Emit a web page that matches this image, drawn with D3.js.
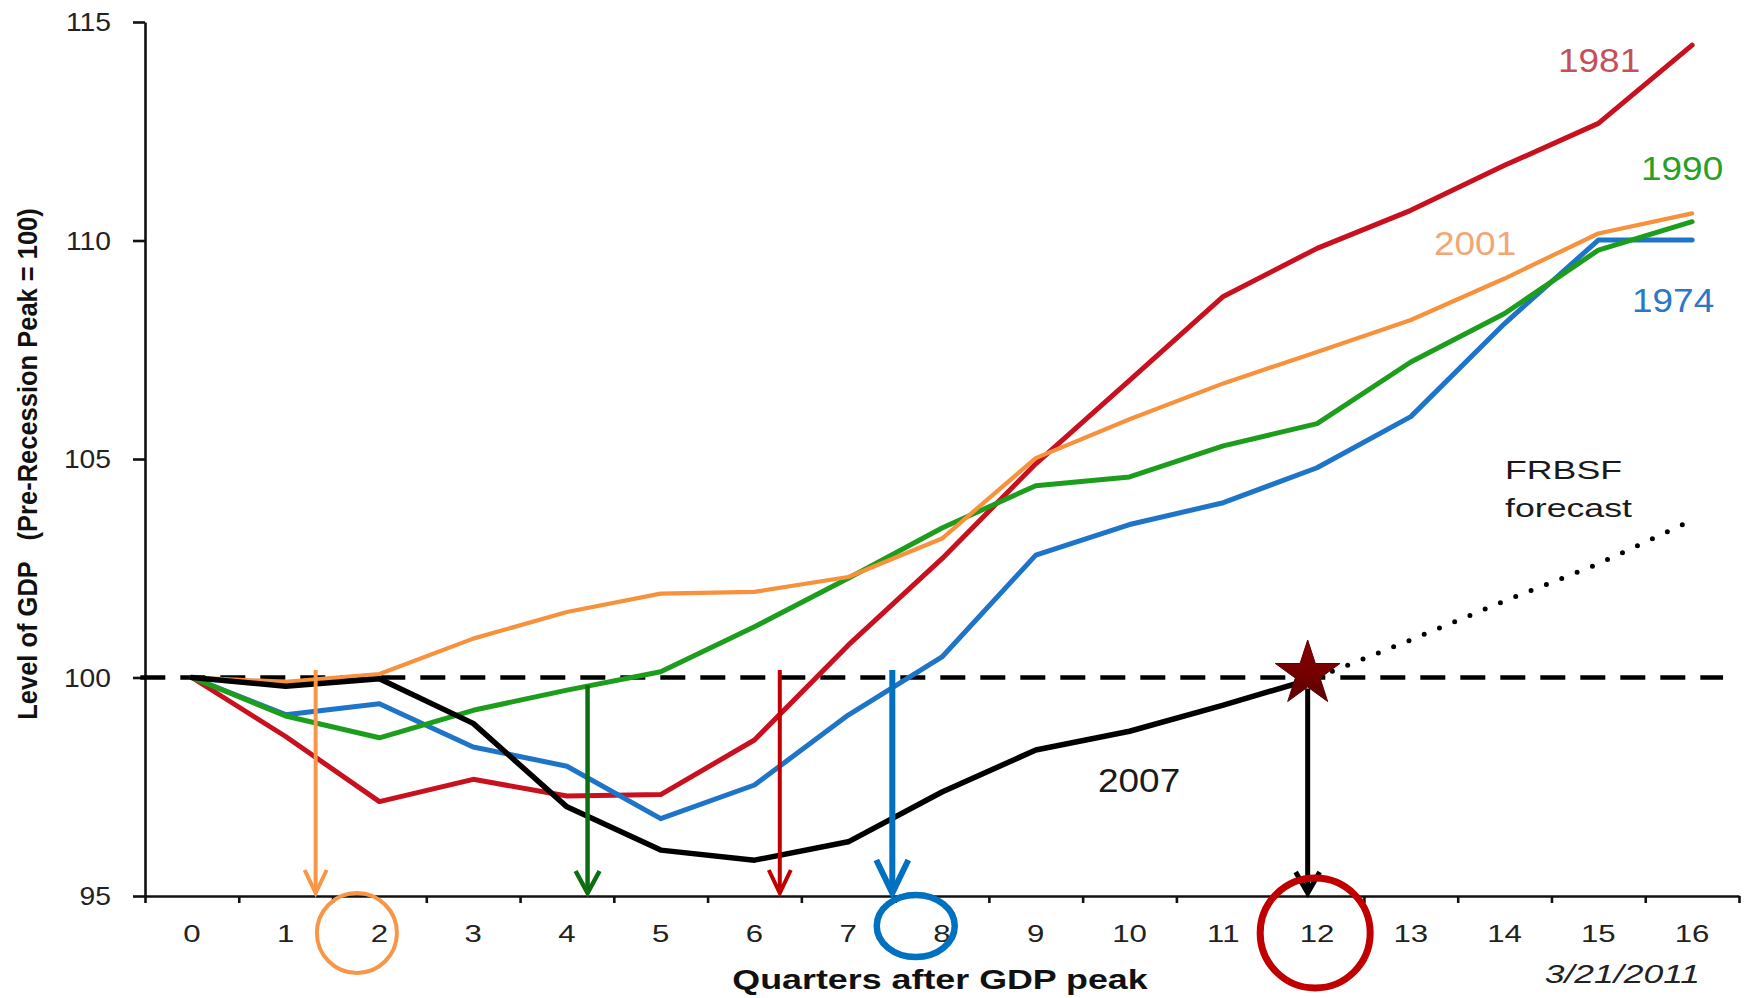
<!DOCTYPE html>
<html>
<head>
<meta charset="utf-8">
<script src="https://cdn.jsdelivr.net/npm/d3@7"></script>
<style>
  html, body { margin: 0; padding: 0; background: #fff; }
  svg { display: block; }
  text { font-family: "Liberation Sans", Arial, Helvetica, sans-serif; }
</style>
</head>
<body>
<svg id="chart" width="1745" height="998"></svg>
<script>
// Quarters after the pre-recession GDP peak
const quarters = d3.range(0, 17);
const tickLabels = quarters.map(String);
const yTicks = [95, 100, 105, 110, 115];

// Real GDP level, pre-recession peak = 100
const gdp1974 = [100, 99.15, 99.4, 98.41, 97.97, 96.77, 97.54, 99.14, 100.47, 102.8, 103.5, 104.0, 104.8, 105.97, 108.1, 110.01, 110.01];
const gdp1981 = [100, 98.65, 97.16, 97.67, 97.29, 97.32, 98.57, 100.74, 102.72, 104.89, 106.8, 108.72, 109.82, 110.69, 111.72, 112.68, 114.47];
const gdp1990 = [100, 99.12, 98.62, 99.25, 99.71, 100.13, 101.16, 102.27, 103.42, 104.39, 104.59, 105.3, 105.81, 107.22, 108.33, 109.78, 110.43];
const gdp2001 = [100, 99.9, 100.08, 100.89, 101.5, 101.92, 101.96, 102.3, 103.18, 105.02, 105.91, 106.73, 107.45, 108.18, 109.13, 110.16, 110.62];
const gdp2007 = [100, 99.8, 99.97, 98.95, 97.04, 96.05, 95.82, 96.24, 97.38, 98.34, 98.77, 99.37, 100];
// FRBSF forecast path, quarters 12-16
const forecastQuarters = [12, 13, 14, 15, 16];
const forecast2007 = [100, 100.86, 101.75, 102.6, 103.6];

// Quarter in which each recession's GDP got back to its peak
const recoveryQuarter = [1.32, 4.22, 6.27, 7.47, 11.9];
const recoveryStart = [100.17, 99.82, 100.17, 100.17, 99.75];
const baseline = 100;

const svg = d3.select("#chart");

const x = d3.scaleLinear().domain([-0.5, 16.5]).range([145, 1739]);
const y = d3.scaleLinear().domain([95, 115]).range([896, 22]);

// ---------- axes ----------
const yAxis = d3.axisLeft(y).tickValues(yTicks).tickSize(12).tickSizeOuter(0).tickFormat("");
const yG = svg.append("g").attr("transform", `translate(${x(-0.5)},0)`).call(yAxis);
const xAxis = d3.axisBottom(x).tickValues(d3.range(-0.5, 17, 1)).tickSize(7).tickSizeOuter(0).tickFormat("");
const xG = svg.append("g").attr("transform", `translate(0,${y(95)})`).call(xAxis);
[yG, xG].forEach(g => {
  g.selectAll("path, line").attr("stroke", "#111").attr("stroke-width", 2.6);
});

// y tick labels
svg.append("g").selectAll("text").data(yTicks).join("text")
  .attr("transform", d => `translate(111,${y(d)}) scale(1.13,1)`)
  .attr("text-anchor", "end")
  .attr("dy", "0.36em")
  .attr("font-size", 25)
  .attr("fill", "#222")
  .text(d => d);

// x tick labels
svg.append("g").selectAll("text").data(quarters).join("text")
  .attr("transform", d => `translate(${x(d)},942) scale(1.3,1)`)
  .attr("text-anchor", "middle")
  .attr("font-size", 24)
  .attr("fill", "#222")
  .text((d, i) => tickLabels[i]);

// axis titles
svg.append("text")
  .attr("transform", "translate(37,464) scale(1.07,1) rotate(-90)")
  .attr("text-anchor", "middle")
  .attr("font-size", 25.5)
  .attr("font-weight", "bold")
  .attr("fill", "#111")
  .attr("xml:space", "preserve")
  .text("Level of GDP   (Pre-Recession Peak = 100)");

svg.append("text")
  .attr("transform", "translate(940,989) scale(1.28,1)")
  .attr("text-anchor", "middle")
  .attr("font-size", 28)
  .attr("font-weight", "bold")
  .attr("fill", "#111")
  .text("Quarters after GDP peak");

svg.append("text")
  .attr("transform", "translate(1700,983) scale(1.42,1)")
  .attr("text-anchor", "end")
  .attr("font-size", 25)
  .attr("font-style", "italic")
  .attr("fill", "#222")
  .text("3/21/2011");

// ---------- pre-recession peak reference ----------
svg.append("line")
  .attr("x1", x(-0.55)).attr("x2", x(16.33))
  .attr("y1", y(baseline)).attr("y2", y(baseline))
  .attr("stroke", "#000").attr("stroke-width", 4.5)
  .attr("stroke-dasharray", "25,15");

// ---------- recession paths ----------
const series = [
  { name: "1981", values: gdp1981, color: "#C8101E", width: 5 },
  { name: "1974", values: gdp1974, color: "#1E74C8", width: 5 },
  { name: "1990", values: gdp1990, color: "#1C9E1C", width: 5 },
  { name: "2001", values: gdp2001, color: "#F7913C", width: 4.2 },
  { name: "2007", values: gdp2007, color: "#000000", width: 5.5 }
];

const line = d3.line().x((d, i) => x(i)).y(d => y(d));

svg.append("g").selectAll("path").data(series).join("path")
  .attr("d", d => line(d.values))
  .attr("fill", "none")
  .attr("stroke", d => d.color)
  .attr("stroke-width", d => d.width)
  .attr("stroke-linejoin", "round")
  .attr("stroke-linecap", "round");

// forecast (dotted)
const fLine = d3.line().x((d, i) => x(forecastQuarters[i])).y(d => y(d));
svg.append("path")
  .attr("d", fLine(forecast2007))
  .attr("fill", "none")
  .attr("stroke", "#000")
  .attr("stroke-width", 5)
  .attr("stroke-linecap", "round")
  .attr("stroke-dasharray", "0,16.5");

// ---------- series labels ----------
const seriesLabels = [
  { text: "1981", x: 1558, y: 72, color: "#C4505A" },
  { text: "1990", x: 1641, y: 180, color: "#27A027" },
  { text: "2001", x: 1434, y: 255, color: "#F3A674" },
  { text: "1974", x: 1632, y: 312, color: "#2B78C6" },
  { text: "2007", x: 1098, y: 792, color: "#1a1a1a" }
];
svg.append("g").selectAll("text").data(seriesLabels).join("text")
  .attr("transform", d => `translate(${d.x},${d.y}) scale(1.12,1)`)
  .attr("font-size", 33)
  .attr("fill", d => d.color)
  .text(d => d.text);

svg.append("g").selectAll("text").data(["FRBSF", "forecast"]).join("text")
  .attr("transform", (d, i) => `translate(1505,${479 + i * 38}) scale(1.4,1)`)
  .attr("font-size", 25.5)
  .attr("fill", "#1a1a1a")
  .text(d => d);

// ---------- recovery arrows ----------
const arrows = [
  { color: "#F79646", width: 4, hw: 11, hl: 23 },
  { color: "#0E6E12", width: 4.5, hw: 12, hl: 22 },
  { color: "#C00000", width: 4, hw: 11, hl: 23 },
  { color: "#0070C0", width: 6, hw: 16, hl: 33 },
  { color: "#000000", width: 5, hw: 12, hl: 21 }
].map((a, i) => ({ ...a, q: recoveryQuarter[i], from: recoveryStart[i] }));

const tipY = y(95) - 3;
const ag = svg.append("g").selectAll("g").data(arrows).join("g");
ag.append("line")
  .attr("x1", d => x(d.q)).attr("x2", d => x(d.q))
  .attr("y1", d => y(d.from)).attr("y2", tipY - 2)
  .attr("stroke", d => d.color).attr("stroke-width", d => d.width);
ag.append("path")
  .attr("d", d => `M${x(d.q) - d.hw},${tipY - d.hl} L${x(d.q)},${tipY} L${x(d.q) + d.hw},${tipY - d.hl}`)
  .attr("fill", "none")
  .attr("stroke", d => d.color).attr("stroke-width", d => d.width)
  .attr("stroke-linejoin", "miter");

// star where 2007 regains its peak
const defs = svg.append("defs");
const grad = defs.append("linearGradient").attr("id", "starFill")
  .attr("x1", 0).attr("y1", 0).attr("x2", 0).attr("y2", 1);
grad.append("stop").attr("offset", "0%").attr("stop-color", "#8E0000");
grad.append("stop").attr("offset", "100%").attr("stop-color", "#5E0000");

svg.append("path")
  .attr("d", d3.symbol(d3.symbolStar, 34 * 34 / 0.8908130915292852)())
  .attr("transform", `translate(${x(recoveryQuarter[4])},${y(100.08)})`)
  .attr("fill", "url(#starFill)")
  .attr("stroke", "#5A0000").attr("stroke-width", 1);

// circled quarter labels
const circled = [
  { q: 1.76, rx: 40, ry: 40, dy: 37, color: "#F79646", sw: 4 },
  { q: 7.72, rx: 39, ry: 31, dy: 30, color: "#0070C0", sw: 6.5 },
  { q: 11.98, rx: 55, ry: 55, dy: 37, color: "#C00000", sw: 7 }
];
svg.append("g").selectAll("ellipse").data(circled).join("ellipse")
  .attr("cx", d => x(d.q))
  .attr("cy", d => y(95) + d.dy)
  .attr("rx", d => d.rx).attr("ry", d => d.ry)
  .attr("fill", "none")
  .attr("stroke", d => d.color)
  .attr("stroke-width", d => d.sw);
</script>
</body>
</html>
